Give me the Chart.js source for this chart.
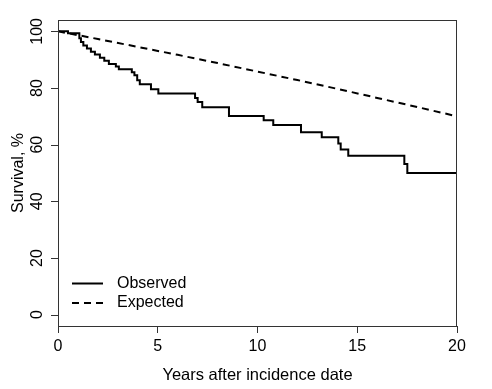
<!DOCTYPE html>
<html><head><meta charset="utf-8">
<script src="https://cdn.jsdelivr.net/npm/chart.js@4/dist/chart.umd.min.js"></script>
<style>html,body{margin:0;padding:0;background:#fff}#c{display:block}</style>
</head><body>
<canvas id="c" width="492" height="389"></canvas>
<script>
// Observed (Kaplan-Meier) survival: time of each step (years) and survival after the step (%)
const obsYears    = [0, 0.5, 1.07, 1.15, 1.27, 1.45, 1.65, 1.85, 2.1, 2.32, 2.55, 2.9, 3.05, 3.7, 3.83, 3.97, 4.1, 4.66, 5.03, 6.87, 7.0, 7.23, 8.57, 10.31, 10.79, 12.18, 13.22, 14.05, 14.17, 14.55, 17.36, 17.51, 20];
const obsSurvival = [100, 99.3, 97.6, 96.2, 95.0, 93.9, 92.8, 91.8, 90.7, 89.6, 88.5, 87.6, 86.6, 85.6, 84.5, 82.7, 81.3, 79.6, 78.1, 76.5, 75.1, 73.2, 70.1, 68.6, 66.9, 64.4, 62.6, 60.4, 58.3, 56.1, 53.2, 50.0, 50.0];
// Expected survival
const expYears    = [0, 2, 4, 6, 8, 10, 12, 14, 16, 18, 20];
const expSurvival = [100, 97.3, 94.5, 91.7, 88.8, 85.8, 82.8, 79.7, 76.5, 73.3, 70.0];
// Axis ticks and labels
const xTicks = [0, 5, 10, 15, 20];
const yTicks = [0, 20, 40, 60, 80, 100];
const seriesNames = ['Observed', 'Expected'];
const xTitle = 'Years after incidence date';
const yTitle = 'Survival, %';

const FONT = '"Liberation Sans", Arial, Helvetica, sans-serif';
const AX = '#333';

const toXY = (xs, ys) => xs.map((x, i) => ({x, y: ys[i]}));

const framePlugin = {
  id: 'frame',
  afterDraw(chart) {
    const {ctx, chartArea: a, scales} = chart;
    ctx.save();
    // box
    ctx.strokeStyle = AX; ctx.lineWidth = 1;
    ctx.strokeRect(a.left + 0.5, a.top + 0.5, a.right - a.left - 1, a.bottom - a.top);
    // y tick marks
    yTicks.forEach(v => {
      const y = Math.round(scales.y.getPixelForValue(v)) + 0.5;
      ctx.beginPath(); ctx.moveTo(a.left - 7, y); ctx.lineTo(a.left + 0.5, y); ctx.stroke();
    });
    // y tick labels (rotated, R style)
    ctx.fillStyle = '#000';
    ctx.font = '16px ' + FONT;
    ctx.textAlign = 'center'; ctx.textBaseline = 'middle';
    yTicks.forEach(v => {
      const y = scales.y.getPixelForValue(v);
      ctx.save(); ctx.translate(37.5, y); ctx.rotate(-Math.PI / 2);
      ctx.fillText(String(v), 0, 0); ctx.restore();
    });
    // y title
    ctx.save(); ctx.translate(19, (a.top + a.bottom) / 2); ctx.rotate(-Math.PI / 2);
    ctx.fillText(yTitle, 0, 0); ctx.restore();
    // legend
    ctx.strokeStyle = '#000'; ctx.lineWidth = 2;
    const lx0 = 72, lx1 = 103, ly = [283.5, 303];
    ctx.setLineDash([]);
    ctx.beginPath(); ctx.moveTo(lx0, ly[0]); ctx.lineTo(lx1, ly[0]); ctx.stroke();
    ctx.setLineDash([7, 5]);
    ctx.beginPath(); ctx.moveTo(lx0, ly[1]); ctx.lineTo(lx1, ly[1]); ctx.stroke();
    ctx.setLineDash([]);
    ctx.textAlign = 'left';
    ctx.fillText(seriesNames[0], 117, ly[0]);
    ctx.fillText(seriesNames[1], 117, ly[1]);
    ctx.restore();
  }
};

new Chart(document.getElementById('c'), {
  type: 'line',
  data: {
    datasets: [
      { label: seriesNames[0], data: toXY(obsYears, obsSurvival), stepped: 'before',
        borderColor: '#000', borderWidth: 2, pointRadius: 0, fill: false },
      { label: seriesNames[1], data: toXY(expYears, expSurvival), tension: 0,
        borderColor: '#000', borderWidth: 2, borderDash: [7, 5], pointRadius: 0, fill: false }
    ]
  },
  options: {
    responsive: false, animation: false, devicePixelRatio: 1,
    layout: { padding: { top: 20, right: 35, left: 0, bottom: 0 } },
    plugins: { legend: { display: false }, tooltip: { enabled: false } },
    scales: {
      x: {
        type: 'linear', min: 0, max: 20,
        afterBuildTicks: s => { s.ticks = xTicks.map(v => ({value: v})); },
        afterFit: s => { s.height = 63; },
        grid: { drawOnChartArea: false, tickLength: 7, color: AX, lineWidth: 1 },
        border: { display: false },
        ticks: { color: '#000', font: { size: 16, family: FONT }, padding: 4, maxRotation: 0, autoSkip: false },
        title: { display: true, text: xTitle, color: '#000', font: { size: 16.5, family: FONT }, padding: { top: 0, bottom: 4 } }
      },
      y: {
        type: 'linear', min: -4, max: 104,
        afterBuildTicks: s => { s.ticks = yTicks.map(v => ({value: v})); },
        afterFit: s => { s.width = 58; },
        grid: { display: false },
        border: { display: false },
        ticks: { display: false }
      }
    }
  },
  plugins: [framePlugin]
});
</script>
</body></html>
